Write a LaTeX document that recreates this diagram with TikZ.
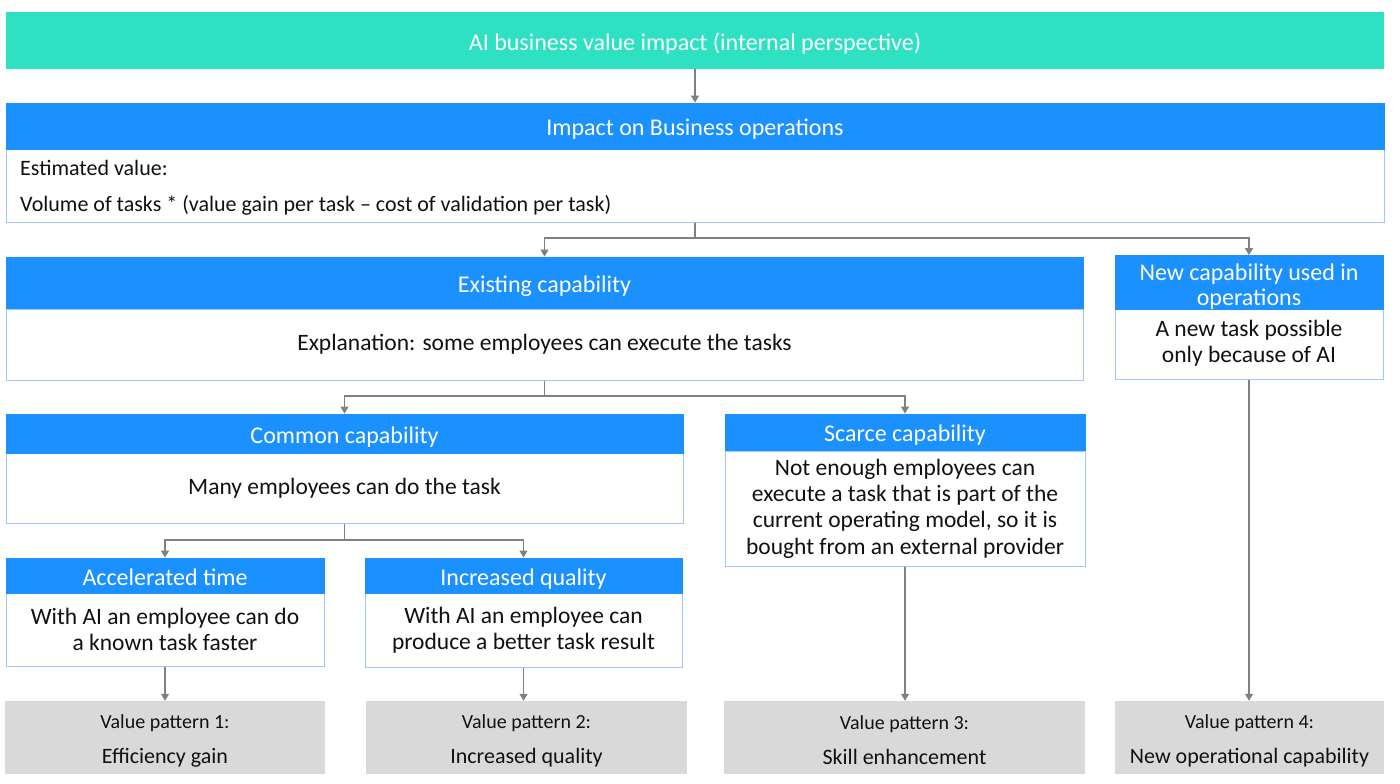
\documentclass[tikz,border=0pt]{standalone}
\usepackage{fontspec}
\setmainfont{Carlito}
\usetikzlibrary{arrows.meta}
\definecolor{topteal}{HTML}{2DE1C2}
\definecolor{hdrblue}{HTML}{1B90FF}
\definecolor{bodyline}{HTML}{9CC8FF}
\definecolor{connc}{HTML}{808080}
\definecolor{grayfill}{HTML}{D9D9D9}
\definecolor{txt}{HTML}{111111}
\tikzset{
  hdr/.style={fill=hdrblue, draw=hdrblue, line width=0.8pt, text=white, inner sep=0pt, align=center,
    font=\fontsize{24}{25.5}\selectfont},
  onehdr/.style={hdr, text height=19.2pt, text depth=0pt},
  bodybox/.style={fill=white, draw=bodyline, line width=1pt, text=txt, inner sep=0pt, align=center,
    font=\fontsize{23.5}{26.3}\selectfont},
  vbox/.style={fill=grayfill, draw=none, inner sep=0pt, text=txt, align=center,
    font=\fontsize{20}{35}\selectfont, text height=55pt},
  conn/.style={draw=connc, line width=1.2pt},
  arr/.style={conn, -{Triangle[width=8pt,length=7pt]}},
}
\begin{document}
\begin{tikzpicture}[x=1pt,y=1pt]
\useasboundingbox (0,0) rectangle (1400,-784);
% top
\node[fill=topteal, inner sep=0pt, minimum width=1378, minimum height=57, text=white,
  font=\fontsize{24}{26}\selectfont, text height=19.2pt, text depth=0pt] (top) at (695,-40.5) {AI business value impact (internal perspective)};
% impact
\node[bodybox, minimum width=1378, minimum height=73] (impB) at (695,-185.5) {};
\node[onehdr, minimum width=1378, minimum height=46] (impH) at (695,-126) {Impact on Business operations};
\node[text=txt, anchor=base west, inner sep=0pt, font=\fontsize{22}{26}\selectfont] (est) at (20,-175) {Estimated value:};
\node[text=txt, anchor=base west, inner sep=0pt, font=\fontsize{22}{26}\selectfont] (vol) at (20,-211) {Volume of tasks * (value gain per task -- cost of validation per task)};
% existing
\node[bodybox, minimum width=1077, minimum height=71] (exB) at (544.5,-344.5) {Explanation: some employees can execute the tasks};
\node[onehdr, minimum width=1077, minimum height=51] (exH) at (544.5,-282.5) {Existing capability};
% new
\node[bodybox, minimum width=268, minimum height=71] (newB) at (1249,-343.5) {A new task possible\\only because of AI};
\node[hdr, minimum width=268, minimum height=51, text height=50pt] (newH) at (1249,-282.5) {New capability used in\\operations};
% common
\node[bodybox, minimum width=677, minimum height=70] (comB) at (344.5,-488.5) {Many employees can do the task};
\node[onehdr, minimum width=677, minimum height=39] (comH) at (344.5,-433.5) {Common capability};
% scarce
\node[bodybox, minimum width=360, minimum height=115] (scB) at (905,-508.5) {Not enough employees can\\execute a task that is part of the\\current operating model, so it is\\bought from an external provider};
\node[onehdr, minimum width=360, minimum height=36] (scH) at (905,-432) {Scarce capability};
% accelerated
\node[bodybox, minimum width=318, minimum height=73] (acB) at (165,-629.5) {With AI an employee can do\\a known task faster};
\node[onehdr, minimum width=318, minimum height=35] (acH) at (165,-575.5) {Accelerated time};
% increased quality
\node[bodybox, minimum width=317, minimum height=74] (iqB) at (523.5,-630) {With AI an employee can\\produce a better task result};
\node[onehdr, minimum width=317, minimum height=35] (iqH) at (523.5,-575.5) {Increased quality};
% value patterns
\node[vbox, minimum width=320, minimum height=73] (g1) at (165,-737.5) {Value pattern 1:\\\fontsize{22}{35}\selectfont Efficiency gain};
\node[vbox, minimum width=321, minimum height=73] (g2) at (526.5,-737.5) {Value pattern 2:\\\fontsize{22}{35}\selectfont Increased quality};
\node[vbox, minimum width=361, minimum height=73] (g3) at (904.5,-737.5) {Value pattern 3:\\\fontsize{22}{35}\selectfont Skill enhancement};
\node[vbox, minimum width=269, minimum height=73] (g4) at (1249.5,-737.5) {Value pattern 4:\\\fontsize{22}{35}\selectfont New operational capability};
% junctions
\coordinate (j1) at (695,-238);
\coordinate (j2) at (544.5,-396);
\coordinate (j3) at (344.5,-540);
% connectors
\draw[arr] (top.south) -- (impH.north);
\draw[conn] (impB.south) -- (j1);
\draw[arr] (j1) -| (exH.north);
\draw[arr] (j1) -| (newH.north);
\draw[conn] (exB.south) -- (j2);
\draw[arr] (j2) -| (comH.north);
\draw[arr] (j2) -| (scH.north);
\draw[conn] (comB.south) -- (j3);
\draw[arr] (j3) -| (acH.north);
\draw[arr] (j3) -| (iqH.north);
\draw[arr] (acB.south) -- (acB.south |- g1.north);
\draw[arr] (iqB.south) -- (iqB.south |- g2.north);
\draw[arr] (scB.south) -- (scB.south |- g3.north);
\draw[arr] (newB.south) -- (newB.south |- g4.north);
\end{tikzpicture}
\end{document}
